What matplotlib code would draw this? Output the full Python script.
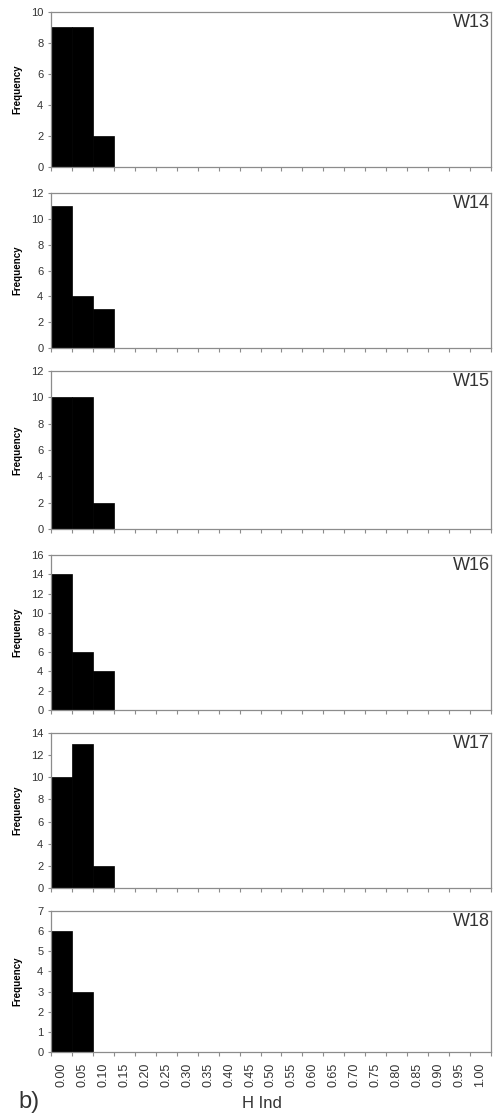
import matplotlib.pyplot as plt

plt.rcParams['font.family'] = ['Liberation Sans', 'DejaVu Sans']

# H Ind classes (Excel style column chart, one column per class)
hind_labels = ["0.00", "0.05", "0.10", "0.15", "0.20", "0.25", "0.30",
               "0.35", "0.40", "0.45", "0.50", "0.55", "0.60", "0.65",
               "0.70", "0.75", "0.80", "0.85", "0.90", "0.95", "1.00"]

panel_names = ["W13", "W14", "W15", "W16", "W17", "W18"]

w13 = [9, 9, 2] + [0] * 18
w14 = [11, 4, 3] + [0] * 18
w15 = [10, 10, 2] + [0] * 18
w16 = [14, 6, 4] + [0] * 18
w17 = [10, 13, 2] + [0] * 18
w18 = [6, 3] + [0] * 19

y_max = [10, 12, 12, 16, 14, 7]
y_step = [2, 2, 2, 2, 2, 1]

# panel top / bottom in pixels from the top of the figure
panel_px = [(12, 167), (193, 348), (371, 529), (555, 710), (733, 888), (911, 1052)]

W, H = 494, 1115
LEFT, RIGHT = 51, 491
FRAME = "#8c8c8c"
TEXT = "#333333"

fig = plt.figure(figsize=(W / 100, H / 100), dpi=100)

series = [w13, w14, w15, w16, w17, w18]
x = list(range(len(hind_labels)))

for i, (name, vals) in enumerate(zip(panel_names, series)):
    top, bottom = panel_px[i]
    ax = fig.add_axes([LEFT / W, 1 - bottom / H, (RIGHT - LEFT) / W, (bottom - top) / H])
    ax.bar(x, vals, width=1.0, color="black", edgecolor="black", linewidth=0.5)
    ax.set_xlim(-0.5, len(hind_labels) - 0.5)
    ax.set_ylim(0, y_max[i])
    ax.set_yticks(range(0, y_max[i] + 1, y_step[i]))

    for s in ax.spines.values():
        s.set_color(FRAME)
        s.set_linewidth(0.9)

    # labels at column centres, tick marks at column boundaries
    ax.set_xticks(x)
    ax.set_xticks([v - 0.5 for v in range(len(hind_labels) + 1)], minor=True)
    ax.tick_params(axis="x", which="major", length=0, pad=8)
    ax.tick_params(axis="x", which="minor", length=3, color=FRAME, width=0.8)
    ax.tick_params(axis="y", length=2.5, color=FRAME, width=0.8, pad=3,
                   labelsize=8, labelcolor=TEXT)

    if i == len(panel_names) - 1:
        ax.set_xticklabels(hind_labels, rotation=90, fontsize=9, color=TEXT)
    else:
        ax.set_xticklabels([])

    ax.set_ylabel("Frequency", fontsize=7, fontweight="bold", color="black")
    ax.yaxis.set_label_coords(-0.065, 0.5)

    ax.text(0.997, 0.985, name, transform=ax.transAxes, ha="right", va="top",
            fontsize=13, color=TEXT)

fig.text(262 / W, 1 - 1103 / H, "H Ind", ha="center", va="center",
         fontsize=12, color=TEXT)
fig.text(29 / W, 1 - 1102 / H, "b)", ha="center", va="center",
         fontsize=17, color=TEXT)

fig.savefig("out.png", dpi=100)
plt.close(fig)
